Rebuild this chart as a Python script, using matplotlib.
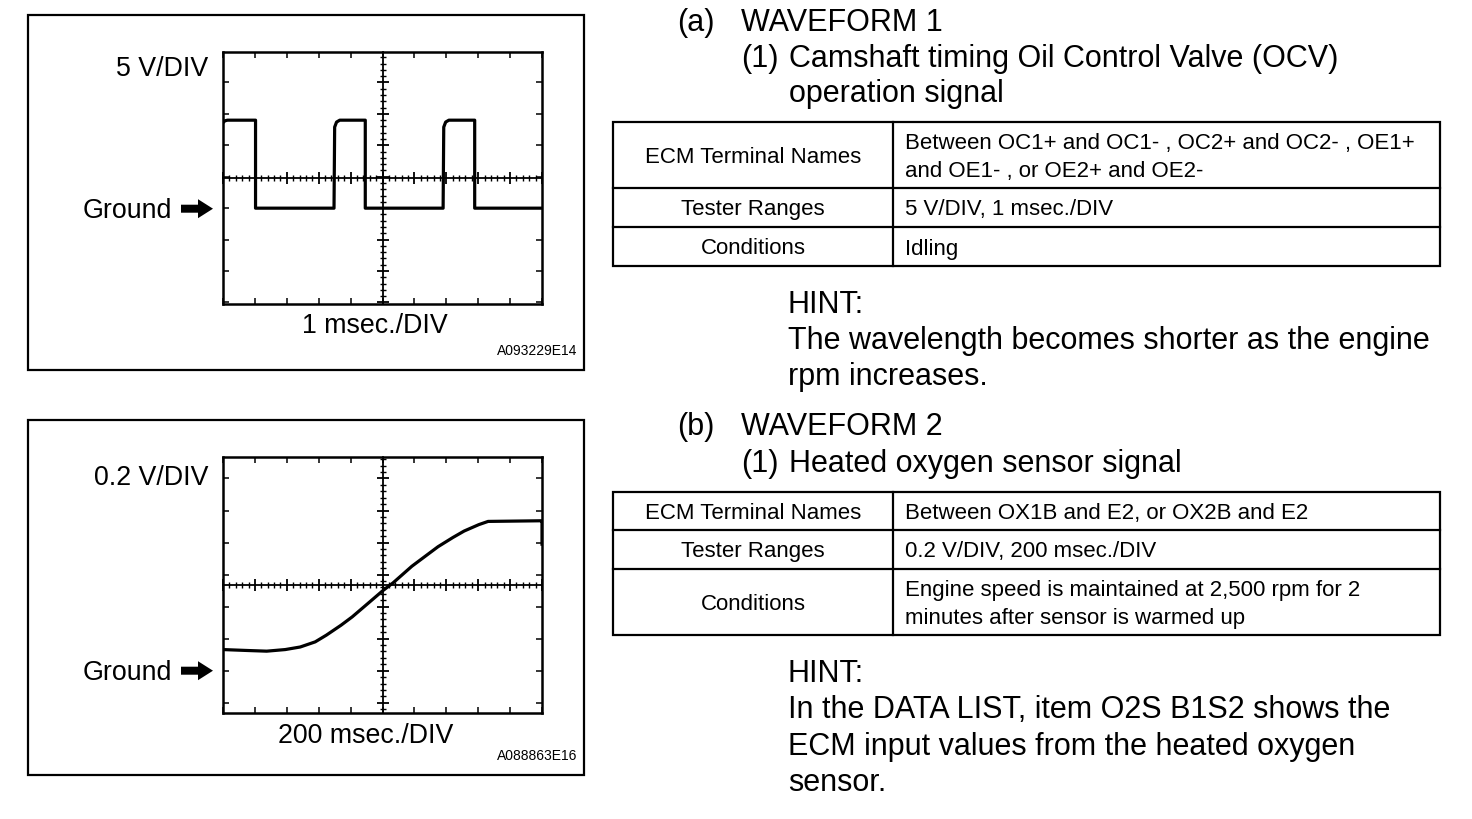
"""Draws the OCV / heated oxygen sensor waveform reference sheet."""

import matplotlib
matplotlib.use("Agg")
import matplotlib.pyplot as plt
from matplotlib.patches import FancyArrow, Rectangle
from matplotlib.ticker import MultipleLocator

plt.rcParams['font.family'] = ['Liberation Sans', 'DejaVu Sans']

W, H = 1472, 820

# Waveform 1: OCV operation signal (5 V/DIV, 1 msec./DIV), time from left edge
ocv_time_ms = [0.0, 0.06, 0.14, 1.02, 1.02, 3.48, 3.50, 3.56, 3.66, 4.46, 4.46,
               6.90, 6.92, 6.98, 7.08, 7.89, 7.89, 10.0]
ocv_volts = [13.6, 13.9, 14.0, 14.0, 0.0, 0.0, 12.9, 13.7, 14.0, 14.0, 0.0,
             0.0, 12.9, 13.7, 14.0, 14.0, 0.0, 0.0]

# Waveform 2: heated oxygen sensor signal (0.2 V/DIV, 200 msec./DIV)
o2_time_ms = [0, 158, 274, 390, 484, 578, 648, 740, 810, 904, 1000, 1068,
              1184, 1278, 1348, 1442, 1512, 1604, 1662, 1990, 2000, 2000]
o2_volts = [0.132, 0.126, 0.122, 0.132, 0.148, 0.180, 0.222, 0.284, 0.336,
            0.416, 0.498, 0.550, 0.652, 0.722, 0.774, 0.832, 0.872, 0.912,
            0.932, 0.936, 0.936, 0.790]

row_names = ["ECM Terminal Names", "Tester Ranges", "Conditions"]
table1_values = [["Between OC1+ and OC1- , OC2+ and OC2- , OE1+",
                  "and OE1- , or OE2+ and OE2-"],
                 ["5 V/DIV, 1 msec./DIV"],
                 ["Idling"]]
table2_values = [["Between OX1B and E2, or OX2B and E2"],
                 ["0.2 V/DIV, 200 msec./DIV"],
                 ["Engine speed is maintained at 2,500 rpm for 2",
                  "minutes after sensor is warmed up"]]

hint1_lines = ["HINT:", "The wavelength becomes shorter as the engine",
               "rpm increases."]
hint2_lines = ["HINT:", "In the DATA LIST, item O2S B1S2 shows the",
               "ECM input values from the heated oxygen", "sensor."]

BIG = 22
TAB = 16
SCOPE = 19.3


def draw_scope(fig, grid_px, time_ms, volts, ms_per_div, v_per_div, ground_div):
    left, top, right, bottom = grid_px
    rect = [left / W, 1 - bottom / H, (right - left) / W, (bottom - top) / H]
    xlim = (0, 10 * ms_per_div)
    ylim = ((-4 - ground_div) * v_per_div, (4 - ground_div) * v_per_div)

    ax = fig.add_axes(rect)
    ax.set_xlim(*xlim)
    ax.set_ylim(*ylim)
    ax.xaxis.set_major_locator(MultipleLocator(ms_per_div))
    ax.yaxis.set_major_locator(MultipleLocator(v_per_div))
    ax.tick_params(which='both', direction='in', top=True, right=True,
                   length=4.5, width=1.1, labelbottom=False, labelleft=False)
    for sp in ax.spines.values():
        sp.set_linewidth(1.8)

    # centre cross of the graticule
    axc = fig.add_axes(rect)
    axc.patch.set_visible(False)
    axc.set_xlim(*xlim)
    axc.set_ylim(*ylim)
    axc.spines['top'].set_visible(False)
    axc.spines['right'].set_visible(False)
    axc.spines['left'].set_position(('axes', 0.5))
    axc.spines['bottom'].set_position(('axes', 0.5))
    axc.spines['left'].set_linewidth(1.3)
    axc.spines['bottom'].set_linewidth(1.3)
    axc.xaxis.set_major_locator(MultipleLocator(ms_per_div))
    axc.xaxis.set_minor_locator(MultipleLocator(ms_per_div / 5))
    axc.yaxis.set_major_locator(MultipleLocator(v_per_div))
    axc.yaxis.set_minor_locator(MultipleLocator(v_per_div / 5))
    axc.tick_params(which='major', direction='inout', length=8, width=1.3,
                    labelbottom=False, labelleft=False)
    axc.tick_params(which='minor', direction='inout', length=4.5, width=1.0)

    axc.plot(time_ms, volts, color='black', lw=2.3, solid_joinstyle='round')
    return ax


fig = plt.figure(figsize=(W / 100, H / 100), dpi=100)
bg = fig.add_axes([0, 0, 1, 1])
bg.set_xlim(0, W)
bg.set_ylim(H, 0)
bg.axis('off')

# outer frames of the two scope pictures
for top, bottom in [(16, 371), (421, 776)]:
    bg.add_patch(Rectangle((28, top), 556, bottom - top, fill=False,
                           lw=1.6, ec='black'))

draw_scope(fig, (223, 53.3, 542, 304.7), ocv_time_ms, ocv_volts, 1, 5, -0.96)
draw_scope(fig, (223, 457.7, 542, 714), o2_time_ms, o2_volts, 200, 0.2, -2.68)

# scope labels
scope_labels = [("5 V/DIV", 76, 209.7, "1 msec./DIV", 375, 333, "A093229E14", 355),
                ("0.2 V/DIV", 485, 671.7, "200 msec./DIV", 366, 743, "A088863E16", 760)]
for vlabel, vy, gy, tlabel, tx, ty, code, cy in scope_labels:
    bg.text(208, vy, vlabel, fontsize=SCOPE, ha='right', va='baseline')
    bg.text(172, gy + 8.5, "Ground", fontsize=SCOPE, ha='right', va='baseline')
    bg.add_patch(FancyArrow(181, gy, 32, 0, width=8, head_width=19,
                            head_length=15, length_includes_head=True,
                            color='black', lw=0))
    bg.text(tx, ty, tlabel, fontsize=SCOPE, ha='center', va='baseline')
    bg.text(577, cy, code, fontsize=10, ha='right', va='baseline')

# headings
bg.text(677, 31, "(a)", fontsize=BIG, va='baseline')
bg.text(741, 31, "WAVEFORM 1", fontsize=BIG, va='baseline')
bg.text(741, 67, "(1)", fontsize=BIG, va='baseline')
bg.text(789, 67, "Camshaft timing Oil Control Valve (OCV)", fontsize=BIG, va='baseline')
bg.text(789, 102, "operation signal", fontsize=BIG, va='baseline')

bg.text(677, 435, "(b)", fontsize=BIG, va='baseline')
bg.text(741, 435, "WAVEFORM 2", fontsize=BIG, va='baseline')
bg.text(741, 472, "(1)", fontsize=BIG, va='baseline')
bg.text(789, 472, "Heated oxygen sensor signal", fontsize=BIG, va='baseline')


def draw_table(row_edges, values):
    x0, xm, x1 = 613, 893, 1440
    bg.add_patch(Rectangle((x0, row_edges[0]), x1 - x0,
                           row_edges[-1] - row_edges[0], fill=False, lw=1.6))
    bg.plot([xm, xm], [row_edges[0], row_edges[-1]], color='black', lw=1.6)
    for y in row_edges[1:-1]:
        bg.plot([x0, x1], [y, y], color='black', lw=1.6)
    for i, (name, lines) in enumerate(zip(row_names, values)):
        mid = (row_edges[i] + row_edges[i + 1]) / 2
        bg.text((x0 + xm) / 2, mid + 7, name, fontsize=TAB,
                ha='center', va='baseline')
        first = mid + 7 - 14 * (len(lines) - 1)
        for j, line in enumerate(lines):
            bg.text(905, first + 28 * j, line, fontsize=TAB, va='baseline')


draw_table([122.7, 189, 228, 267], table1_values)
draw_table([492.7, 531, 570, 636], table2_values)

for j, line in enumerate(hint1_lines):
    bg.text(788, 313 + 36 * j, line, fontsize=BIG, va='baseline')
for j, line in enumerate(hint2_lines):
    bg.text(788, 682 + 36.5 * j, line, fontsize=BIG, va='baseline')

fig.savefig("out.png", dpi=100)
